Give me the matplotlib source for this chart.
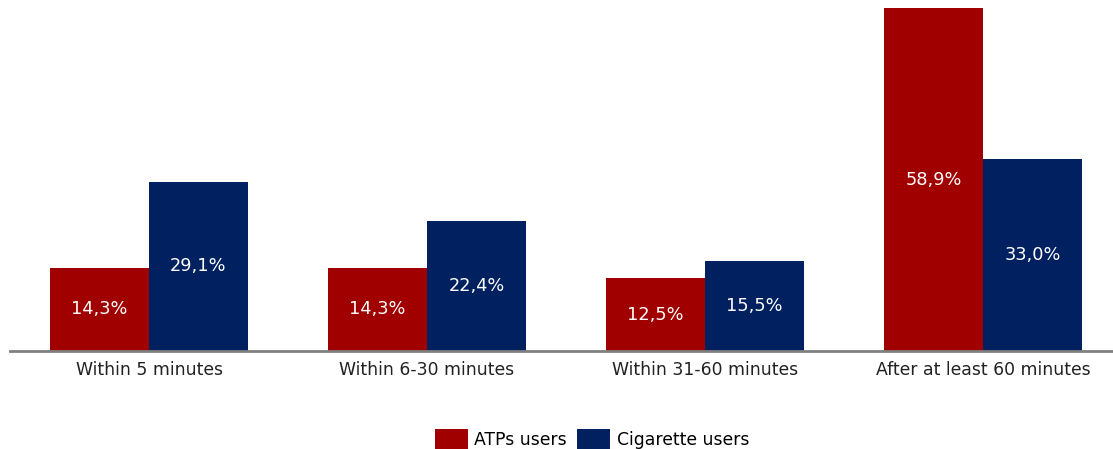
import numpy as np
import matplotlib.pyplot as plt

categories = ["Within 5 minutes", "Within 6-30 minutes", "Within 31-60 minutes", "After at least 60 minutes"]
atps = [14.3, 14.3, 12.5, 58.9]
cigs = [29.1, 22.4, 15.5, 33.0]
series_names = ["ATPs users", "Cigarette users"]

red = "#A00000"
navy = "#002060"

fig = plt.figure(figsize=(11.13, 4.49), dpi=100)
# axes: left edge x=10px, baseline y=351px, group spacing 278px
ax = fig.add_axes([10 / 1113, (449 - 351) / 449, 1112 / 1113, 351 / 449])

x = np.arange(len(categories))
w = 0.356
b1 = ax.bar(x - w / 2, atps, w, color=red, label=series_names[0])
b2 = ax.bar(x + w / 2, cigs, w, color=navy, label=series_names[1])

for bars, vals in [(b1, atps), (b2, cigs)]:
    for r, v in zip(bars, vals):
        ax.text(r.get_x() + r.get_width() / 2, v / 2, f"{v:.1f}%".replace(".", ","),
                ha="center", va="center", color="white", fontsize=12.8)

ax.set_xlim(-0.5, 3.5)
ax.set_ylim(0, 60.3)
ax.set_yticks([])
ax.set_xticks(x)
ax.set_xticklabels(categories, fontsize=12.4, color="#222222")
ax.tick_params(axis="x", length=0, pad=7)
for s in ["top", "right", "left"]:
    ax.spines[s].set_visible(False)
ax.spines["bottom"].set_color("#808080")
ax.spines["bottom"].set_linewidth(2)

fig.legend(loc="lower center", bbox_to_anchor=(0.532, -0.035), ncol=2, frameon=False,
           fontsize=12.4, handlelength=1.9, handleheight=1.4, handletextpad=0.4,
           columnspacing=0.6)

fig.savefig("out.png", dpi=100)
